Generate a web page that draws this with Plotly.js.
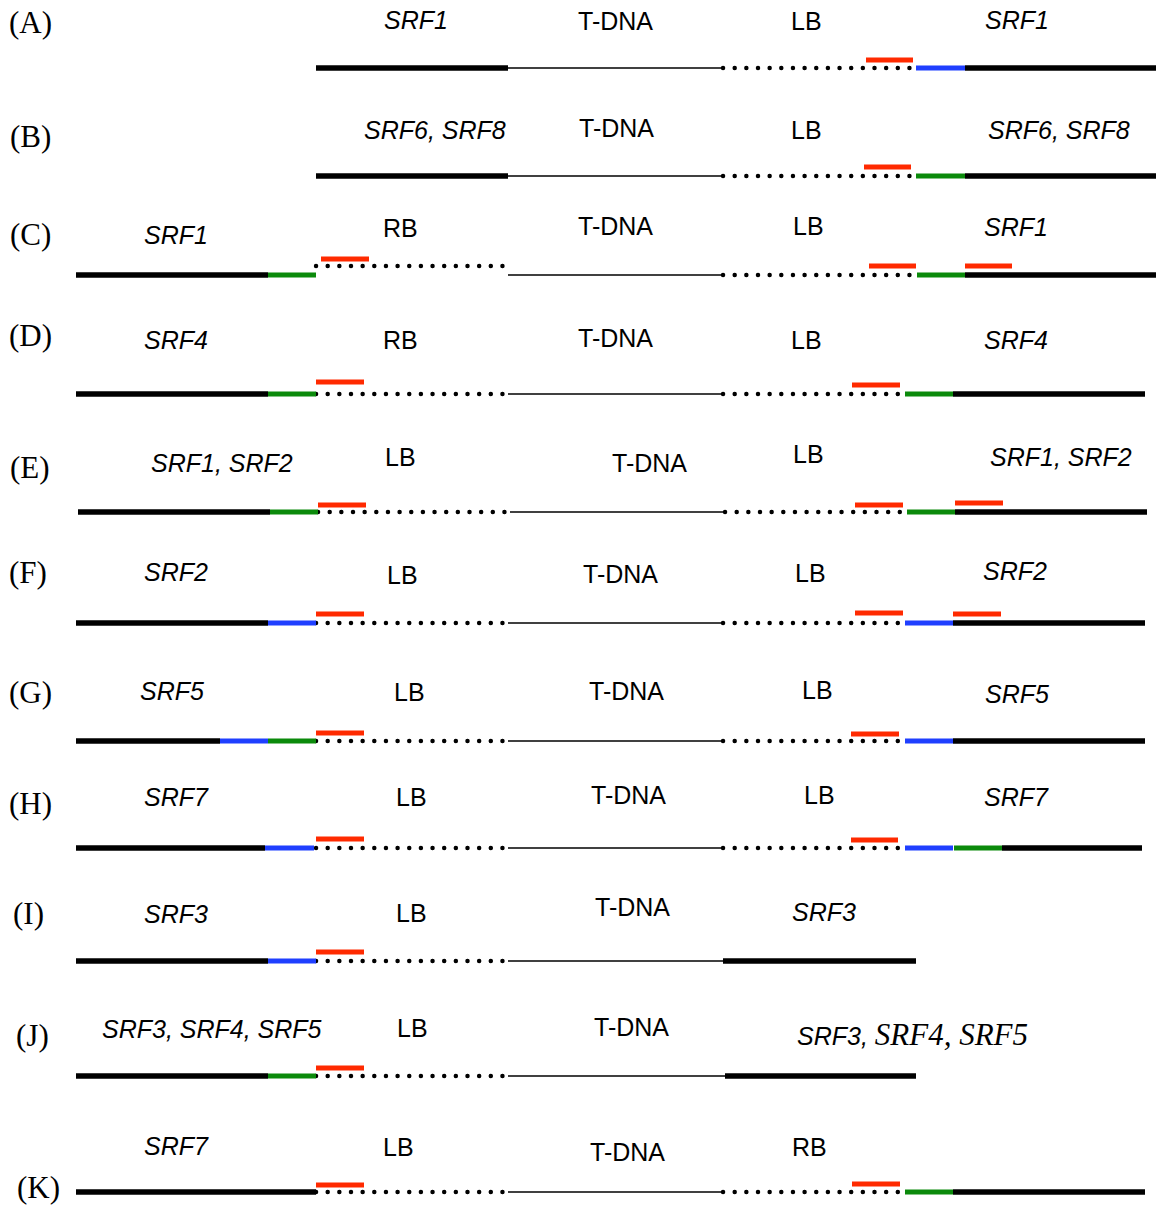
<!DOCTYPE html>
<html>
<head>
<meta charset="utf-8">
<script src="https://cdn.plot.ly/plotly-3.0.1.min.js"></script>
<style>
html,body{margin:0;padding:0;background:#fff;}
#chart .scatterlayer .trace:nth-child(2) path.js-line{stroke-linecap:round;}
</style>
</head>
<body>
<div id="chart" style="width:1159px;height:1206px;"></div>
<script>
// Row tags
const rowTags = ['(A)','(B)','(C)','(D)','(E)','(F)','(G)','(H)','(I)','(J)','(K)'];
const rowTagX = [30,30,30,30,30,28,30,30,28,32,38];
const rowTagY = [22,136,234,335,467,572,692,803,913,1035,1187];

// Segments: [x0, x1, y]
const genomicSeg = [
  [316,508,68],[965,1156,68],
  [316,508,176],[965,1156,176],
  [76,268,275],[965,1156,275],
  [76,268,394],[953,1145,394],
  [78,270,512],[955,1147,512],
  [76,268,623],[953,1145,623],
  [76,220,741],[953,1145,741],
  [76,265,848],[1002,1142,848],
  [76,268,961],[723,916,961],
  [76,268,1076],[725,916,1076],
  [76,316,1192],[953,1145,1192]
];
const tdnaSeg = [
  [508,723,68],[508,723,176],[508,723,275],[508,723,394],[510,725,512],
  [508,723,623],[508,723,741],[508,723,848],[508,723,961],[508,725,1076],[508,723,1192]
];
const borderSeg = [
  [723,910,68],
  [723,910,176],
  [316,505,266],[723,910,275],
  [316,505,394],[723,900,394],
  [318,507,512],[725,903,512],
  [316,505,623],[723,900,623],
  [316,505,741],[723,900,741],
  [316,505,848],[723,900,848],
  [316,505,961],
  [316,505,1076],
  [316,505,1192],[723,900,1192]
];
const primerSeg = [
  [866,913,60],
  [864,911,167],
  [321,369,259],[869,916,266],[965,1012,266],
  [316,364,382],[852,900,385],
  [318,366,505],[855,903,505],[955,1003,503],
  [316,364,614],[855,903,613],[953,1001,614],
  [316,364,733],[851,899,734],
  [316,364,839],[851,898,840],
  [316,364,952],
  [316,364,1068],
  [316,364,1185],[852,900,1184]
];
const blueSeg = [
  [916,965,68],
  [268,316,623],[905,953,623],
  [220,268,741],[905,953,741],
  [265,314,848],[905,953,848],
  [268,316,961]
];
const greenSeg = [
  [916,965,176],
  [268,316,275],[917,965,275],
  [268,316,394],[905,953,394],
  [270,318,512],[907,955,512],
  [268,316,741],
  [954,1002,848],
  [268,316,1076],
  [905,953,1192]
];

// Labels: [x, y, text, kind]  i = italic sans, n = normal sans
const labels = [
  [416,20,'SRF1','i'],[615,21,'T-DNA','n'],[806,21,'LB','n'],[1017,20,'SRF1','i'],
  [435,130,'SRF6, SRF8','i'],[616,128,'T-DNA','n'],[806,130,'LB','n'],[1059,130,'SRF6, SRF8','i'],
  [176,235,'SRF1','i'],[400,228,'RB','n'],[615,226,'T-DNA','n'],[808,226,'LB','n'],[1016,227,'SRF1','i'],
  [176,340,'SRF4','i'],[400,340,'RB','n'],[615,338,'T-DNA','n'],[806,340,'LB','n'],[1016,340,'SRF4','i'],
  [222,463,'SRF1, SRF2','i'],[400,457,'LB','n'],[649,463,'T-DNA','n'],[808,454,'LB','n'],[1061,457,'SRF1, SRF2','i'],
  [176,572,'SRF2','i'],[402,575,'LB','n'],[620,574,'T-DNA','n'],[810,573,'LB','n'],[1015,571,'SRF2','i'],
  [172,691,'SRF5','i'],[409,692,'LB','n'],[626,691,'T-DNA','n'],[817,690,'LB','n'],[1017,694,'SRF5','i'],
  [176,797,'SRF7','i'],[411,797,'LB','n'],[628,795,'T-DNA','n'],[819,795,'LB','n'],[1016,797,'SRF7','i'],
  [176,914,'SRF3','i'],[411,913,'LB','n'],[632,907,'T-DNA','n'],[824,912,'SRF3','i'],
  [212,1029,'SRF3, SRF4, SRF5','i'],[412,1028,'LB','n'],[631,1027,'T-DNA','n'],
  [912,1034,'SRF3, <span style="font-family:Liberation Serif;font-size:31px">SRF4, SRF5</span>','i'],
  [176,1146,'SRF7','i'],[398,1147,'LB','n'],[627,1152,'T-DNA','n'],[809,1147,'RB','n']
];

function segTrace(segs, color, width, dash) {
  const x = [], y = [];
  segs.forEach(s => { x.push(s[0], s[1], null); y.push(s[2], s[2], null); });
  return {
    type: 'scatter', mode: 'lines', x: x, y: y, hoverinfo: 'skip',
    line: {color: color, width: width, dash: dash || 'solid'},
    showlegend: false
  };
}

const traces = [
  segTrace(tdnaSeg, '#000000', 1.6),
  segTrace(borderSeg, '#000000', 4.4, '0.1px,11.55px'),
  segTrace(genomicSeg, '#000000', 5.5),
  segTrace(blueSeg, '#1f3fff', 5),
  segTrace(greenSeg, '#0b8a0b', 5),
  segTrace(primerSeg, '#ff2a00', 5)
];

const annotations = [];
rowTags.forEach((t, i) => {
  annotations.push({
    x: rowTagX[i], y: rowTagY[i], xref: 'x', yref: 'y', text: t, showarrow: false,
    xanchor: 'center', yanchor: 'middle',
    font: {family: 'Liberation Serif, Times New Roman, serif', size: 31, color: '#000'}
  });
});
labels.forEach(l => {
  annotations.push({
    x: l[0], y: l[1], xref: 'x', yref: 'y', text: l[2], showarrow: false,
    xanchor: 'center', yanchor: 'middle',
    font: {family: 'Liberation Sans, Arial, sans-serif', size: 25, color: '#000',
           style: l[3] === 'i' ? 'italic' : 'normal'}
  });
});

const layout = {
  width: 1159, height: 1206,
  margin: {l: 0, r: 0, t: 0, b: 0, pad: 0},
  paper_bgcolor: '#ffffff', plot_bgcolor: '#ffffff',
  xaxis: {range: [0, 1159], visible: false, fixedrange: true},
  yaxis: {range: [1206, 0], visible: false, fixedrange: true},
  annotations: annotations,
  showlegend: false
};

Plotly.newPlot('chart', traces, layout, {staticPlot: true, displayModeBar: false});
</script>
</body>
</html>
